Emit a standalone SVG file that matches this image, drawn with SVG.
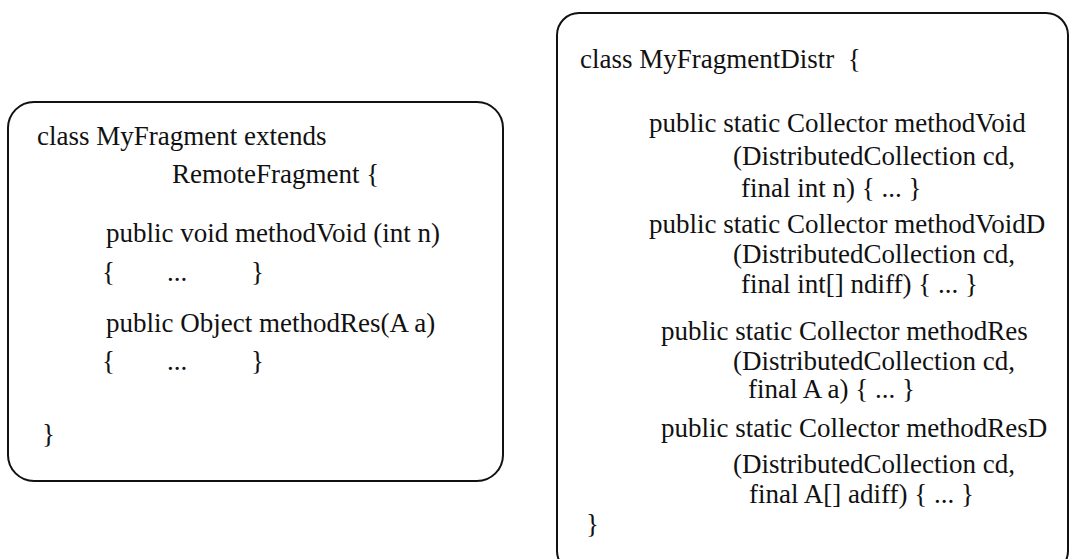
<svg xmlns="http://www.w3.org/2000/svg" width="1070" height="559" viewBox="0 0 1070 559">
  <style>
    .box { fill: #ffffff; stroke: #111111; stroke-width: 2; }
    .code { font-family: "Liberation Serif", "Times New Roman", serif; font-size: 27px; fill: #111111; white-space: pre; }
  </style>
  <rect x="0" y="0" width="1070" height="559" fill="#ffffff"/>

  <!-- Fragment class with its two plain methods -->
  <g id="my-fragment">
    <rect class="box" x="8" y="102" width="495" height="379" rx="26" ry="26"/>
    <text class="code" x="37" y="145">class MyFragment extends</text>
    <text class="code" x="172" y="183">RemoteFragment {</text>
    <text class="code" x="106" y="242">public void methodVoid (int n)</text>
    <text class="code" x="102" y="281">{</text>
    <text class="code" x="167" y="281">...</text>
    <text class="code" x="251" y="281">}</text>
    <text class="code" x="106" y="332">public Object methodRes(A a)</text>
    <text class="code" x="102" y="370">{</text>
    <text class="code" x="167" y="370">...</text>
    <text class="code" x="251" y="370">}</text>
    <text class="code" x="42" y="443">}</text>
  </g>

  <!-- Distributed counterpart with static collector methods -->
  <g id="my-fragment-distr">
    <rect class="box" x="557" y="13" width="511" height="560" rx="22" ry="22"/>
    <text class="code" x="580" y="68">class MyFragmentDistr  {</text>
    <text class="code" x="649" y="132">public static Collector methodVoid</text>
    <text class="code" x="733" y="165">(DistributedCollection cd,</text>
    <text class="code" x="741" y="197">final int n) { ... }</text>
    <text class="code" x="649" y="233">public static Collector methodVoidD</text>
    <text class="code" x="733" y="263">(DistributedCollection cd,</text>
    <text class="code" x="741" y="293">final int[] ndiff) { ... }</text>
    <text class="code" x="661" y="340">public static Collector methodRes</text>
    <text class="code" x="733" y="370">(DistributedCollection cd,</text>
    <text class="code" x="748" y="398">final A a) { ... }</text>
    <text class="code" x="661" y="437">public static Collector methodResD</text>
    <text class="code" x="733" y="473">(DistributedCollection cd,</text>
    <text class="code" x="749" y="503">final A[] adiff) { ... }</text>
    <text class="code" x="586" y="533">}</text>
  </g>

  <!-- no connectors are drawn between the two classes -->
  <g id="connectors"/>
</svg>
